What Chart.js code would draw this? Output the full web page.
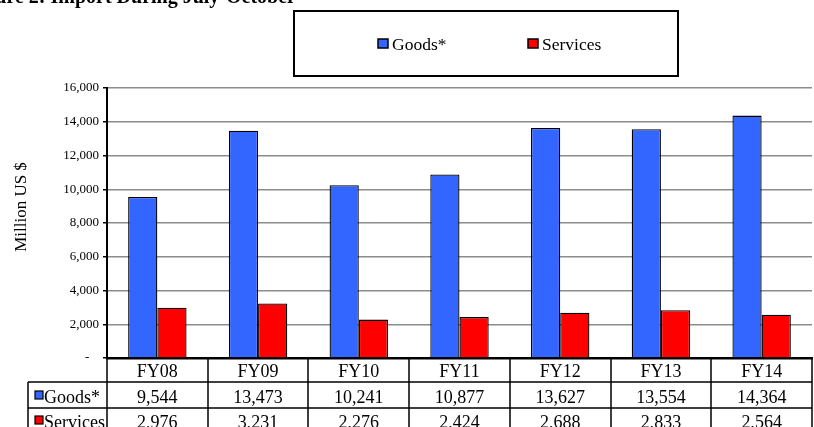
<!DOCTYPE html>
<html>
<head>
<meta charset="utf-8">
<script src="https://cdn.jsdelivr.net/npm/chart.js@4.4.1/dist/chart.umd.min.js"></script>
<style>
html,body{margin:0;padding:0;background:#fff;overflow:hidden;}
#wrap{position:relative;width:814px;height:427px;}
</style>
</head>
<body>
<div id="wrap"><canvas id="c"></canvas></div>
<script>
const titleText = 'Figure 2: Import During July-October';
const yAxisTitle = 'Million US $';
const categories = ['FY08', 'FY09', 'FY10', 'FY11', 'FY12', 'FY13', 'FY14'];
const seriesNames = ['Goods*', 'Services'];
const goods = [9544, 13473, 10241, 10877, 13627, 13554, 14364];
const services = [2976, 3231, 2276, 2424, 2688, 2833, 2564];
const seriesColors = ['#3366FF', '#FF0000'];

const SERIF = '"Liberation Serif", "Times New Roman", serif';
const fmt = v => v.toLocaleString('en-US');

const extras = {
  id: 'extras',
  afterDraw(chart) {
    const ctx = chart.ctx;
    const area = chart.chartArea;
    const xs = chart.scales.x;
    const n = categories.length;
    const cw = (area.right - area.left) / n;
    ctx.save();

    // Title (cut off at top like the reference)
    ctx.fillStyle = '#000';
    ctx.font = 'bold 20px ' + SERIF;
    ctx.textAlign = 'right';
    ctx.textBaseline = 'alphabetic';
    ctx.fillText(titleText, 296, 3);

    // Y axis title
    ctx.save();
    ctx.translate(22, 207);
    ctx.rotate(-Math.PI / 2);
    ctx.font = '17px ' + SERIF;
    ctx.textAlign = 'center';
    ctx.textBaseline = 'middle';
    ctx.fillText(yAxisTitle, 0, 0);
    ctx.restore();

    // Legend box
    ctx.strokeStyle = '#000';
    ctx.lineWidth = 2;
    ctx.strokeRect(294, 11, 384, 65);
    const legendItems = [[378, 392], [528, 542]];
    ctx.font = '17.5px ' + SERIF;
    ctx.textAlign = 'left';
    ctx.textBaseline = 'alphabetic';
    seriesNames.forEach((name, i) => {
      const [bx, tx] = legendItems[i];
      ctx.fillStyle = seriesColors[i];
      ctx.fillRect(bx, 39, 10, 9);
      ctx.lineWidth = 1.5;
      ctx.strokeStyle = '#000';
      ctx.strokeRect(bx, 39, 10, 9);
      ctx.fillStyle = '#000';
      ctx.fillText(name, tx, 50);
    });

    // Data table
    const y0 = area.bottom;
    const y1 = y0 + 24;
    const y2 = y1 + 26;
    const y3 = y2 + 26;
    const tLeft = 28;
    ctx.strokeStyle = '#000';
    ctx.lineWidth = 1.5;
    ctx.beginPath();
    ctx.moveTo(tLeft, y1); ctx.lineTo(area.right, y1);
    ctx.moveTo(tLeft, y2); ctx.lineTo(area.right, y2);
    ctx.moveTo(tLeft, y3); ctx.lineTo(area.right, y3);
    ctx.moveTo(tLeft, y1); ctx.lineTo(tLeft, y3);
    for (let i = 0; i <= n; i++) {
      const bx = Math.round(xs.getPixelForValue(i) - cw / 2);
      ctx.moveTo(bx, y0); ctx.lineTo(bx, y3);
    }
    ctx.stroke();

    ctx.font = '18px ' + SERIF;
    ctx.textAlign = 'center';
    ctx.textBaseline = 'alphabetic';
    ctx.fillStyle = '#000';
    const rows = [goods, services];
    const baselines = [y1 + 21, y2 + 20];
    categories.forEach((c, i) => {
      const cx = xs.getPixelForValue(i);
      ctx.fillText(c, cx, y0 + 19);
      rows.forEach((r, k) => {
        ctx.fillText(fmt(r[i]), cx, baselines[k]);
      });
    });
    // Row headers
    ctx.textAlign = 'left';
    seriesNames.forEach((name, k) => {
      const by = baselines[k];
      ctx.fillStyle = seriesColors[k];
      ctx.fillRect(35, by - 12, 8, 8);
      ctx.strokeStyle = '#000';
      ctx.lineWidth = 1.2;
      ctx.strokeRect(35, by - 12, 8, 8);
      ctx.fillStyle = '#000';
      ctx.fillText(name, 44, by);
    });
    ctx.restore();
  }
};

new Chart(document.getElementById('c'), {
  type: 'bar',
  data: {
    labels: categories,
    datasets: [
      { label: seriesNames[0], data: goods, backgroundColor: seriesColors[0], borderColor: '#000', borderWidth: 1.3 },
      { label: seriesNames[1], data: services, backgroundColor: seriesColors[1], borderColor: '#000', borderWidth: 1.3 }
    ]
  },
  options: {
    responsive: true,
    maintainAspectRatio: false,
    animation: false,
    categoryPercentage: 0.58,
    barPercentage: 1.0,
    layout: { padding: { top: 88, right: 2, left: 0, bottom: 0 } },
    plugins: { legend: { display: false }, tooltip: { enabled: false }, title: { display: false } },
    scales: {
      x: {
        ticks: { display: false },
        grid: { display: false },
        border: { display: true, color: '#000', width: 2.5 },
        afterFit(s) { s.height = 69; }
      },
      y: {
        min: 0,
        max: 16000,
        ticks: {
          stepSize: 2000,
          padding: 4,
          color: '#000',
          font: { family: SERIF, size: 13 },
          callback: v => v === 0 ? '-   ' : fmt(v)
        },
        grid: { color: '#8c8c8c', lineWidth: 1.5, tickLength: 4, tickColor: '#000', tickWidth: 1.5 },
        border: { display: true, color: '#000', width: 2 },
        afterFit(s) { s.width = 107; }
      }
    }
  },
  plugins: [extras]
});
</script>
</body>
</html>
